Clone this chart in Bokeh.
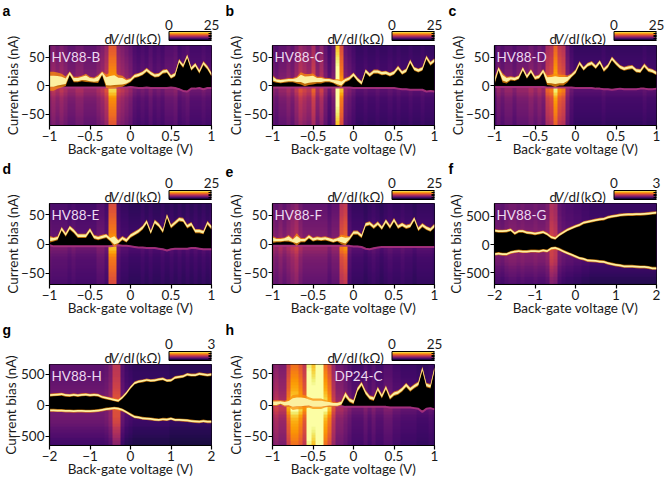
import numpy as np
from bokeh.embed import file_html
from bokeh.resources import INLINE
from bokeh.plotting import figure
from bokeh.layouts import column, row
from bokeh.models import ColorBar, FixedTicker, Label, LinearAxis, LinearColorMapper, Range1d, Title
from bokeh.palettes import Inferno256

FONT = "Lato"

names = ["HV88-B", "HV88-C", "HV88-D", "HV88-E", "HV88-F", "HV88-G", "HV88-H", "DP24-C"]
letters = ["a", "b", "c", "d", "e", "f", "g", "h"]

a_up = [8,8,9,9,8,22,11,11,13,14, 11,10,12,22,8,9,10,8,8,7, 10,17,19,22,28,22,18,19,25,26, 16,20,44,35,52,30,37,25,40,32, 20]
a_lo = [-2,-2,-2,-2,-2,-2,-2,-2,-2,-2, -2,-2,-2,-2,-2,-2,-2,-2,-2,-2, -1,-2,-3,-3,-2,-3,-3,-3,-3,-3, -2,-3,-5,-8,-9,-4,-4,-3,-5,-3, -3]
a_gl = [14,14,12,10,7,3,4,4,4,6, 4,4,6,3,10,12,12,9,8,4, 3,3,3,3,3,3,3,3,3,3, 3,3,3,3,3,3,3,3,3,3, 3]
a_bg = [9,10,9,10,9,8,8,9,9,8, 8,8,9,10,12,18,18,11,10,9, 8,6.5,6,6.5,6,7,6,6.5,6,7, 7,7.5,6,6.5,7,6,6,6,6.5,6, 6]

b_up = [13,9,8,9,10,10,10,13,10,11, 12,10,10,10,10,8,6,4,10,13, 20,11,5,26,19,25,25,22,23,20, 23,32,23,27,43,30,27,30,50,39, 45]
b_lo = [-2,-2,-2,-2,-2,-2,-2,-2,-2,-2, -2,-2,-2,-2,-2,-2,-2,-2,-2,-2, -3,-3,-3,-3,-3,-3,-3,-3,-3,-3, -3,-4,-5,-5,-6,-6,-6,-6,-9,-8, -9]
b_gl = [5,3,3,3,3,3,5,9,9,8, 8,5,5,3,3,3,5,5,3,3, 3,3,3,3,3,3,3,3,3,3, 3,3,3,3,3,3,3,3,3,3, 3]
b_bg = [8,7,8,8,9,8,10,12,11,10, 13,9,11,8,6,8,25,17,8,7, 6,5,5,5.5,5,5,5.5,5,5,5.5, 5,5.5,5,5,5.5,5,5,5.5,5,5, 5]

c_up = [8,30,14,10,13,12,15,30,16,26, 14,16,26,10,10,10,10,10,12,18, 25,40,30,37,40,33,42,28,35,48, 40,33,30,32,33,27,26,36,28,26, 22]
c_lo = [-1,-1,-1,-1,-1,-1,-1,-1,-1,-1, -1,-1,-1,-2,-2,-2,-2,-2,-2,-2, -3,-3,-3,-3,-3,-4,-4,-5,-5,-6, -5,-4,-5,-5,-5,-5,-4,-4,-5,-5, -4]
c_gl = [5,3,7,5,3,3,3,3,3,3, 3,3,3,7,8,10,8,8,5,3, 3,3,3,3,3,3,3,3,3,3, 3,3,3,3,3,3,3,3,3,3, 3]
c_bg = [6,8,7,8,8,7,8,8,8,9, 8,9,8,13,14,19,15,14,8,6, 5,5,5,5,5,5,5,5.5,5,5, 5,5,5,5,5,5,5,5.5,5,5, 5]

d_up = [8,8,10,26,16,28,22,14,14,14, 24,12,10,12,14,8,6,4,10,6, 14,18,22,28,38,20,38,32,22,48, 30,36,42,41,30,34,22,22,20,36, 28]
d_lo = [-1,-3,-3,-3,-3,-3,-3,-3,-3,-3, -3,-3,-3,-3,-3,-3,-2,-1,-2,-2, -3,-4,-5,-5,-6,-6,-6,-7,-8,-10, -8,-7,-7,-7,-7,-6,-6,-7,-8,-8, -8]
d_gl = [5,3,3,3,3,3,3,3,3,3, 3,3,3,3,3,3,10,3,3,3, 3,3,3,3,3,3,3,3,3,3, 3,3,3,3,3,3,3,3,3,3, 3]
d_bg = [7,6.5,6.5,6.5,6.5,6,6.5,6,6,6, 6,6,7,7,6,17,17,6,5,5, 4.5,4.5,4.5,5,4.5,5,4.5,4.5,5,4.5, 5,4.5,5,4.5,5,4.5,5,4.5,5,4.5, 5]

e_up = [8,7,7,8,10,6,8,7,7,13, 8,10,9,10,8,6,8,8,6,10, 20,20,14,34,36,30,36,28,40,30, 42,30,34,30,32,44,26,33,28,25, 32]
e_lo = [-2,-2,-2,-2,-2,-2,-2,-2,-2,-2, -2,-2,-2,-2,-2,-2,-2,-2,-2,-2, -3,-3,-4,-7,-8,-6,-5,-4,-4,-4, -4,-4,-4,-4,-4,-4,-4,-4,-4,-4, -4]
e_gl = [5,3,3,3,5,3,9,3,3,3, 3,3,3,3,3,3,3,7,7,3, 3,3,3,3,3,3,3,3,3,3, 3,3,3,3,3,3,3,3,3,3, 3]
e_bg = [9,8,9,8,9,10,11,9,8,8, 8,8,8,8,7,8,8,14,15,6, 5,5,5,4.5,5,5.5,5,4.5,5,5.5, 5,5,5.5,5,5,4.5,5,5,5,5, 4.5]

f_up = [245,235,235,240,260,195,235,235,210,205, 190,205,220,185,130,110,170,215,260,290, 320,345,385,400,415,430,445,450,480,495, 505,520,525,530,530,535,535,540,545,555, 560]
f_lo = [-170,-160,-170,-170,-140,-125,-115,-125,-125,-115, -115,-120,-105,-115,-70,-60,-85,-120,-150,-180, -210,-240,-255,-280,-285,-290,-300,-305,-330,-345, -360,-370,-385,-385,-385,-390,-395,-395,-405,-420, -420]
f_gl = [22] * 41
f_bg = [.85,.85,.8,.9,.95,.95,.9,.95,.9,.9, .95,.9,.9,1,1.4,1.3,.85,.75,.7,.7, .65,.65,.6,.6,.55,.55,.55,.55,.55,.55, .55,.55,.55,.55,.55,.55,.55,.55,.55,.55, .55]

g_up = [165,170,175,180,165,160,170,160,170,175, 165,170,165,135,120,105,90,75,130,200, 290,360,385,395,410,400,405,420,430,400, 405,450,460,470,500,490,490,510,500,490, 500]
g_lo = [-80,-80,-85,-85,-90,-90,-95,-90,-90,-95, -95,-90,-85,-75,-60,-55,-45,-55,-75,-110, -150,-185,-195,-210,-215,-220,-230,-235,-225,-230, -215,-235,-235,-240,-245,-255,-260,-265,-255,-265, -265]
g_gl = [20] * 41
g_bg = [.8,.8,.8,.8,.8,.8,.8,.8,.8,.8, .8,.8,.8,.8,.85,1,1.5,1.5,.75,.6, .55,.5,.5,.5,.5,.5,.5,.5,.5,.5, .45,.45,.45,.45,.45,.45,.45,.45,.45,.45, .45]

h_up = [3,3,4,2,3,4,5,5,5,4, 2,2,2,2,2,1,1,3,17,8, 5,25,34,20,12,10,26,14,28,12, 18,20,25,32,25,30,34,58,32,30, 58]
h_lo = [0,0,0,0,0,0,0,0,0,0, 0,0,0,0,0,0,-1,-1,-2,-2, -2,-2,-2,-2,-2,-2,-2,-2,-2,-3, -3,-3,-3,-3,-3,-4,-5,-10,-5,-4, -6]
h_gl = [4,4,3,4,5,10,10,10,9,7, 7,7,7,5,4,3,3,3,4,3, 3,3,3,3,3,3,3,3,3,3, 3,3,3,3,3,3,3,3,3,3, 3]
h_bg = [10,11,10,10,16,20,20,18,15,28, 25,32,32,20,17,12,9,9,8,7, 6,6,6,7,6,7,6,6,7,7, 6,6,5.5,5.5,5.5,5.5,5,5,5,5.5, 5]

# row factors, listed from top to bottom of each panel
small_prof = [.84,.86,.88,.9,.92,.94,.96,.98,1,1.02,1.05,1.08,1.12,1.18,1.25,1.28,1.25,1.18,1.1,1.05,1.02,1,.98,.96,.94,.92,.9,.87,.84]
large_prof = [1,1,1,1.02,1.03,1.05,1.05,1.08,1.1,1.12,1.15,1.18,1.2,1.2,1.2,1.2,1.2,1.18,1.18,1.15,1.12,1.08,1,.96,.92,.88,.82,.78,.72]

def make(i, up, lo, bg, gl, prof, xr, yr, cmax, yticks, top, bottom, left, right, bright_lo, lx):
    mapper = LinearColorMapper(palette=Inferno256, low=0, high=cmax)
    fh = 81
    p = figure(width=left + 162 + right, height=top + fh + bottom, x_range=xr, y_range=yr, toolbar_location=None,
               output_backend="svg", min_border_left=left, min_border_right=right, title=None,
               min_border_top=top, min_border_bottom=bottom, background_fill_color="black",
               border_fill_color="white", outline_line_color="black", outline_line_width=1)
    p.grid.visible = False
    x = np.linspace(xr[0], xr[1], len(up))
    dx = x[1] - x[0]
    up, lo, gl = np.array(up, float), np.array(lo, float), np.array(gl, float)
    span = (yr[1] - yr[0]) / (len(prof) - 1)
    img = np.outer(np.array(prof[::-1]), np.array(bg))
    p.image(image=[img], x=xr[0] - dx / 2, y=yr[0] - span / 2, dw=xr[1] - xr[0] + dx,
            dh=yr[1] - yr[0] + span, color_mapper=mapper)
    p.varea(x, lo, up, fill_color="black")
    if bright_lo:
        p.varea(x, lo - gl * 1.2, lo + gl * 1.2, fill_color="#f98e09", fill_alpha=.7)
        p.varea(x, lo - gl * .7, lo + gl * .7, fill_color="#fcf0a0")
    else:
        p.line(x, lo - 1, line_color="#a8327d", line_width=2, line_alpha=.9)
    p.varea(x, up - gl * 1.2, up + gl * 1.2, fill_color="#f98e09", fill_alpha=.75)
    p.varea(x, up - gl * .7, up + gl * .7, fill_color="#fcf0a0")

    for ax in (p.xaxis[0], p.yaxis[0]):
        ax.major_label_text_font = FONT
        ax.major_label_text_font_size = "13.5px"
        ax.major_label_text_color = "#1a1a1a"
        ax.axis_label_text_font = FONT
        ax.axis_label_text_font_size = "13.5px"
        ax.axis_label_text_font_style = "normal"
        ax.axis_label_text_color = "#1a1a1a"
        ax.major_tick_in = 0
        ax.major_tick_out = 4
        ax.minor_tick_line_color = None
        ax.axis_line_width = 1.2
        ax.major_tick_line_width = 1.2
        ax.major_label_standoff = 1
    p.xaxis.axis_label = "Back-gate voltage (V)"
    p.yaxis.axis_label = "Current bias (nA)"
    p.xaxis.axis_label_standoff = -3
    p.yaxis.axis_label_standoff = -9 if cmax == 3 else -3
    xt = [-1, -.5, 0, .5, 1] if xr[1] == 1 else [-2, -1, 0, 1, 2]
    p.xaxis.ticker = FixedTicker(ticks=xt)
    p.yaxis.ticker = FixedTicker(ticks=yticks)

    def ttl(text, offset, standoff, style="normal", size="13.5px", color="#1a1a1a", font=FONT):
        p.add_layout(Title(text=text, align="left", offset=offset, standoff=standoff, text_font=font,
                           text_font_size=size, text_font_style=style, text_color=color), "above")

    # spacing so that the caption sits just above the frame
    ttl(" ", 0, -10)
    # colour-bar caption, built from parts so that V and I are italic
    ttl("d", 55, -18)
    ttl("V", 60.5, -18, style="italic")
    ttl("/d", 68.5, -18)
    ttl("I", 81.5, -18, style="italic")
    ttl("(kΩ)", 86.5, -18)
    ttl(" ", 0, 10)
    ttl(letters[i], lx - left, -18, style="bold", size="14px", font="Liberation Sans", color="black")

    # colour-bar scale: an axis over the bar's own extent
    p.extra_x_ranges["cb"] = Range1d(cmax - cmax * 162 / 42.5, cmax)
    cax = LinearAxis(x_range_name="cb", ticker=FixedTicker(ticks=[0, cmax]), axis_line_color=None,
                     major_tick_line_color=None, minor_tick_line_color=None, major_tick_out=0, major_tick_in=0,
                     major_label_standoff=-20, major_label_text_font=FONT, major_label_text_font_size="13.5px",
                     major_label_text_color="#1a1a1a")
    p.add_layout(cax, "above")

    tx = 2 if i != 7 else 62
    p.add_layout(Label(x=left + tx, y=top + 11.5, x_units="canvas", y_units="canvas", text=names[i],
                       text_baseline="alphabetic", text_font=FONT, text_font_size="13.5px", text_color="#ecd9f0"))

    cb = ColorBar(color_mapper=mapper, location=(119.5, fh + 4), width=42, height=9, padding=0, margin=0,
                  background_fill_alpha=0, border_line_color=None, bar_line_color="black", bar_line_width=1,
                  ticker=FixedTicker(ticks=[cmax * k / 5 for k in range(6)]),
                  major_label_overrides={cmax * k / 5: "" for k in range(6)},
                  major_tick_line_color="black", major_tick_in=3, major_tick_out=0,
                  minor_tick_line_color=None, label_standoff=0)
    p.add_layout(cb, "center")
    return p

x1, x2 = (-1, 1), (-2, 2)
ys = [-50, 0, 50]
yl = [-500, 0, 500]
pa = make(0, a_up, a_lo, a_bg, a_gl, small_prof, x1, (-70, 71), 25, ys, 45, 33, 49, 11, False, 2)
pb = make(1, b_up, b_lo, b_bg, b_gl, small_prof, x1, (-70, 71), 25, ys, 45, 33, 50, 11, False, 3)
pc = make(2, c_up, c_lo, c_bg, c_gl, small_prof, x1, (-70, 71), 25, ys, 45, 33, 49, 9, False, 3)
pd = make(3, d_up, d_lo, d_bg, d_gl, small_prof, x1, (-69, 69), 25, ys, 44, 36, 49, 11, False, 2)
pe = make(4, e_up, e_lo, e_bg, e_gl, small_prof, x1, (-70, 70.5), 25, ys, 44, 36, 50, 11, False, 3)
pf = make(5, f_up, f_lo, f_bg, f_gl, large_prof, x2, (-705, 723), 3, yl, 44, 36, 49, 9, True, 3)
pg = make(6, g_up, g_lo, g_bg, g_gl, large_prof, x2, (-650, 661), 3, yl, 44, 36, 49, 11, True, 2)
ph = make(7, h_up, h_lo, h_bg, h_gl, small_prof, x1, (-65, 65), 25, ys, 44, 36, 50, 11, False, 3)

layout = column(row(pa, pb, pc, spacing=0), row(pd, pe, pf, spacing=0), row(pg, ph, spacing=0), spacing=0)
open("out.html", "w").write(file_html(layout, INLINE))
